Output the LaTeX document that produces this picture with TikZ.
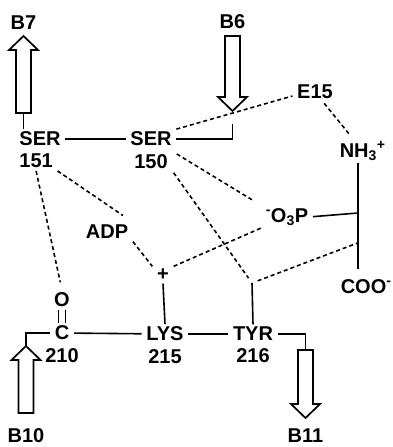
\documentclass[tikz,border=0pt]{standalone}
\usepackage{fontspec}
\setmainfont{Liberation Sans}
\usetikzlibrary{positioning,calc}

\tikzset{
  pics/hollow arrow/.style={code={
    \draw[line width=1.7pt,line join=miter] (-7.5,0) -- (-7.5,#1-14) -- (-14.5,#1-14)
      -- (0,#1) -- (14.5,#1-14) -- (7.5,#1-14) -- (7.5,0) -- cycle;
    \coordinate (-tail) at (0,0);
    \coordinate (-tip) at (0,#1);
  }},
}

\begin{document}
\begin{tikzpicture}[x=1pt,y=-1pt,line width=1.6pt,
   every node/.style={font=\fontsize{20}{24}\selectfont\bfseries,inner xsep=4pt,inner ysep=2pt},
   contact/.style={dash pattern=on 4pt off 3pt}]
  \useasboundingbox (0,0) rectangle (393,447);

  % strands
  \pic (b7arr) at (23.5,113) [rotate=180] {hollow arrow=77};
  \pic (b6arr) at (232.5,36) {hollow arrow=75};
  \pic (b10arr) at (26,413) [rotate=180] {hollow arrow=67};
  \pic (b11arr) at (305.5,350) {hollow arrow=68};
  \node (b7) [above=4pt of b7arr-tip] {B7};
  \node (b6) [above=5pt of b6arr-tail] {B6};
  \node (b10) [below=13pt of b10arr-tail] {B10};
  \node (b11) [below=8pt of b11arr-tip] {B11};

  % residues
  \node (ser151) at (40,139) {SER};
  \node (n151) [below=2.5pt of ser151.south west,anchor=north west] {151};
  \node (ser150) at (151,139) {SER};
  \node (n150) [below=2.5pt of ser150] {150};
  \node (e15) at (315,92) {E15};
  \node (adp) at (107,232) {ADP};
  \node (plus) at (163,275) {+};
  \node (o) at (62,300) {O};
  \node (c) at (62,333) {C};
  \node (n210) [below=2.5pt of c] {210};
  \node (lys) at (165,334) {LYS};
  \node (n215) [below=2.5pt of lys] {215};
  \node (tyr) at (253,334) {TYR};
  \node (n216) [below=2.5pt of tyr] {216};

  % substrate
  \node (nh3) [anchor=base west] at (335,157) {NH\textsubscript{3}\textsuperscript{+}};
  \node (op) [anchor=base west] at (261,222) {\textsuperscript{-}O\textsubscript{3}P};
  \node (coo) [anchor=base west] at (336,293) {COO\textsuperscript{-}};
  \coordinate (calpha) at (358,213);
  \coordinate (tyroh) at (252,283);

  % bonds
  \draw (b7arr-tail) -- (b7arr-tail |- ser151.north);
  \draw (ser151) -- (ser150);
  \draw (ser150.east) -| ([yshift=-13pt]b6arr-tip);
  \draw (b10arr-tip) |- (c.west);
  \draw (c) -- (lys);
  \draw (lys) -- (tyr);
  \draw (tyr.east) -| (b11arr-tail);
  \draw ([xshift=-3.5pt]o.south) -- ([xshift=-3.5pt]o.south |- c.north);
  \draw ([xshift=3.5pt]o.south) -- ([xshift=3.5pt]o.south |- c.north);
  \draw (lys.north) -- (plus.south);
  \draw (tyr.north) -- (tyroh);
  \draw (calpha |- nh3.south) -- ([yshift=7pt]calpha |- coo.north);
  \draw (op.east) -- (calpha);

  % contacts
  \draw[contact] (ser150.north east) -- ([yshift=-4pt]e15.west);
  \draw[contact,shorten <=2pt,shorten >=4pt] (e15) -- (nh3);
  \draw[contact,shorten >=12pt] (n151.south east) -- (adp.north east);
  \draw[contact,shorten >=8pt] (n151.south) -- (o.north);
  \draw[contact,shorten <=5pt,shorten >=8pt] (n150.north east) -- (op.north west);
  \draw[contact,shorten <=2pt,shorten >=6pt] (n150.south east) -- (tyroh);
  \draw[contact] (adp.south east) -- (plus.north west);
  \draw[contact] (plus.north east) -- (op.south west);
  \draw[contact,shorten <=6pt,shorten >=4pt] (tyroh) -- ($(calpha)!0.45!(coo.north)$);
\end{tikzpicture}
\end{document}
